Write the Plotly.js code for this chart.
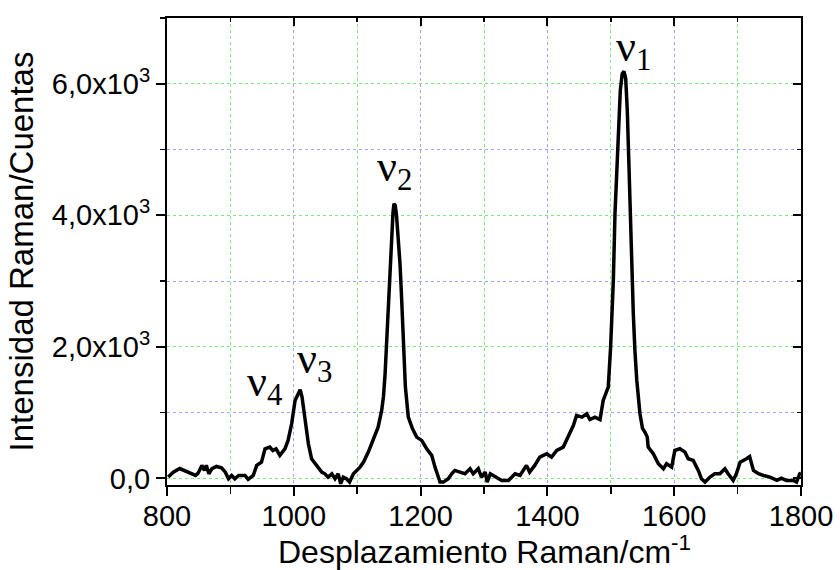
<!DOCTYPE html>
<html>
<head>
<meta charset="utf-8">
<script src="https://cdn.plot.ly/plotly-3.0.1.min.js"></script>
<style>html,body{margin:0;padding:0;background:#fff}#chart{width:840px;height:570px}</style>
</head>
<body>
<div id="chart"></div>
<script>
// Raman spectrum
const ramanShift = [802, 810, 820, 828, 839, 845, 849, 855, 859, 862, 866, 871, 878, 886, 892, 897, 902, 907, 913, 923, 928, 936, 941.5, 949, 954.6, 962, 967, 972, 978, 986, 991, 996.6, 1002, 1005, 1008, 1010, 1013, 1018, 1023, 1028, 1036, 1044, 1049, 1054, 1060, 1065, 1070, 1074, 1078, 1083, 1088, 1094, 1104.5, 1110, 1117.5, 1125, 1133, 1138.6, 1141.5, 1144, 1147.5, 1150.7, 1154.4, 1156.5, 1158, 1160, 1162, 1165, 1167.5, 1170, 1172.5, 1176, 1180.6, 1187, 1193.8, 1201.7, 1209.6, 1217.5, 1222.7, 1230.6, 1236, 1243.7, 1249, 1254, 1262, 1270, 1278, 1283, 1291, 1296, 1302, 1305, 1310, 1320, 1328, 1338.6, 1344, 1349, 1356.8, 1367, 1372, 1380, 1388, 1399, 1406.6, 1414.7, 1425, 1433, 1441, 1446, 1454.5, 1462, 1467, 1475, 1483, 1488, 1493, 1496, 1499.7, 1502, 1504, 1506.6, 1509, 1512, 1515, 1518, 1520.8, 1523.5, 1526, 1528.5, 1531, 1533.5, 1535.5, 1538, 1541, 1546, 1550, 1554, 1557.5, 1559, 1563, 1567, 1575, 1583, 1588, 1596, 1601, 1609, 1617, 1622, 1630, 1638, 1643, 1648.6, 1656.5, 1664, 1672, 1680, 1685, 1693, 1698, 1704, 1714, 1719, 1725, 1733, 1741, 1751, 1762, 1769, 1777, 1788, 1793, 1798, 1800];
const intensity  = [20, 96, 150, 120, 70, 45, 80, 198, 120, 200, 70, 150, 182, 160, 95, -5, 45, -5, 45, 45, -15, 45, 198, 248, 450, 476, 425, 450, 350, 450, 578, 831, 1186, 1247, 1288, 1348, 1237, 882, 527, 300, 198, 96, 70, 20, 70, -5, 70, -81, 20, -5, -55, 70, 172, 248, 400, 578, 780, 1034, 1250, 1592, 2250, 3011, 3771, 4050, 4178, 4150, 4000, 3650, 3264, 2750, 2150, 1390, 932, 760, 628, 578, 451, 350, 172, -56, -56, -5, 71, 122, 96, 71, 147, 71, 147, 20, 96, -56, 71, 20, -30, -30, 20, 71, 45, 198, 96, 198, 324, 375, 324, 426, 476, 628, 806, 958, 932, 983, 895, 932, 895, 1186, 1300, 1388, 1997, 2500, 3011, 4025, 4532, 5300, 5900, 6150, 6190, 6080, 5600, 4800, 3900, 3000, 2503, 1950, 1490, 983, 760, 700, 628, 476, 420, 375, 223, 147, 223, 172, 426, 451, 400, 299, 274, 122, -5, -56, 20, 71, 71, 147, 71, -30, 71, 248, 299, 333, 122, 71, 45, 20, -30, 5, -30, -30, -56, 71, 80];

const xTickVals = [800, 1000, 1200, 1400, 1600, 1800];
const xTickText = ["800", "1000", "1200", "1400", "1600", "1800"];
const yTickVals = [0, 2000, 4000, 6000];
const yTickText = ["0,0", "2,0x10<sup>3</sup>", "4,0x10<sup>3</sup>", "6,0x10<sup>3</sup>"];

const xTitle = "Desplazamiento Raman/cm<sup>-1</sup>";
const yTitle = "Intensidad Raman/Cuentas";

const peakLabels = ["ν<sub>1</sub>", "ν<sub>2</sub>", "ν<sub>3</sub>", "ν<sub>4</sub>"];
const peakLabelX = [1507, 1129, 1003, 924];
const peakLabelY = [6084, 4259, 1338, 989];

const xRange = [800, 1800];
const yRange = [-100, 7000];

const blueGrid = "#9fa6ff";
const greenGrid = "#7fe67f";

const traces = [
  {x: ramanShift, y: intensity, type: "scatter", mode: "lines",
   line: {color: "#000", width: 3.5}, hoverinfo: "skip", showlegend: false},
  {x: ramanShift, y: intensity, type: "scatter", mode: "lines", xaxis: "x2", yaxis: "y2",
   line: {color: "rgba(0,0,0,0)", width: 0}, hoverinfo: "skip", showlegend: false}
];

const annotations = peakLabels.map((t, i) => ({
  text: t, x: peakLabelX[i], y: peakLabelY[i], xref: "x", yref: "y",
  xanchor: "left", yanchor: "bottom", showarrow: false, borderpad: 0,
  font: {family: "Liberation Serif, Times New Roman, serif", size: 44, color: "#000"}
}));
annotations.push({
  text: xTitle, xref: "paper", yref: "paper", x: 0.5, y: -0.094,
  xanchor: "center", yanchor: "top", showarrow: false, borderpad: 0,
  font: {family: "Liberation Sans, Arial, sans-serif", size: 32, color: "#000"}
});

const layout = {
  width: 840, height: 570,
  margin: {l: 167, r: 39, t: 18, b: 85, pad: 0},
  paper_bgcolor: "#fff", plot_bgcolor: "#fff",
  font: {family: "Liberation Sans, Arial, sans-serif", color: "#000"},
  showlegend: false,
  xaxis: {
    range: xRange, tickvals: xTickVals, ticktext: xTickText,
    ticks: "outside", ticklen: 9, tickwidth: 2, tickcolor: "#000",
    ticklabelstandoff: -5,
    showline: true, linewidth: 2, linecolor: "#000",
    showgrid: true, gridcolor: blueGrid, griddash: "dot", gridwidth: 1,
    zeroline: false, tickfont: {size: 29},
    minor: {dtick: 100, tick0: 800, ticks: "outside", ticklen: 7, tickwidth: 1.5, tickcolor: "#000",
            showgrid: true, gridcolor: greenGrid, griddash: "dot", gridwidth: 1}
  },
  yaxis: {
    range: yRange, tickvals: yTickVals, ticktext: yTickText,
    ticks: "outside", ticklen: 9, tickwidth: 2, tickcolor: "#000",
    showline: true, linewidth: 2, linecolor: "#000",
    showgrid: true, gridcolor: greenGrid, griddash: "dot", gridwidth: 1,
    zeroline: false, tickfont: {size: 29},
    minor: {dtick: 1000, tick0: 0, ticks: "outside", ticklen: 5, tickwidth: 1.5, tickcolor: "#000",
            showgrid: true, gridcolor: blueGrid, griddash: "dot", gridwidth: 1},
    title: {text: yTitle, font: {size: 33}, standoff: 8}
  },
  xaxis2: {
    overlaying: "x", side: "top", anchor: "y2", range: xRange, tickvals: xTickVals,
    showticklabels: false, ticks: "inside", ticklen: 8, tickwidth: 2, tickcolor: "#000",
    showline: true, linewidth: 2, linecolor: "#000", showgrid: false, zeroline: false,
    minor: {dtick: 100, tick0: 800, ticks: "inside", ticklen: 4, tickwidth: 1.5, tickcolor: "#000", showgrid: false}
  },
  yaxis2: {
    overlaying: "y", side: "right", anchor: "x2", range: yRange, tickvals: yTickVals,
    showticklabels: false, ticks: "inside", ticklen: 8, tickwidth: 2, tickcolor: "#000",
    showline: true, linewidth: 2, linecolor: "#000", showgrid: false, zeroline: false,
    minor: {dtick: 1000, tick0: 0, ticks: "inside", ticklen: 4, tickwidth: 1.5, tickcolor: "#000", showgrid: false}
  },
  annotations: annotations
};

Plotly.newPlot("chart", traces, layout, {staticPlot: true, displayModeBar: false});
</script>
</body>
</html>
